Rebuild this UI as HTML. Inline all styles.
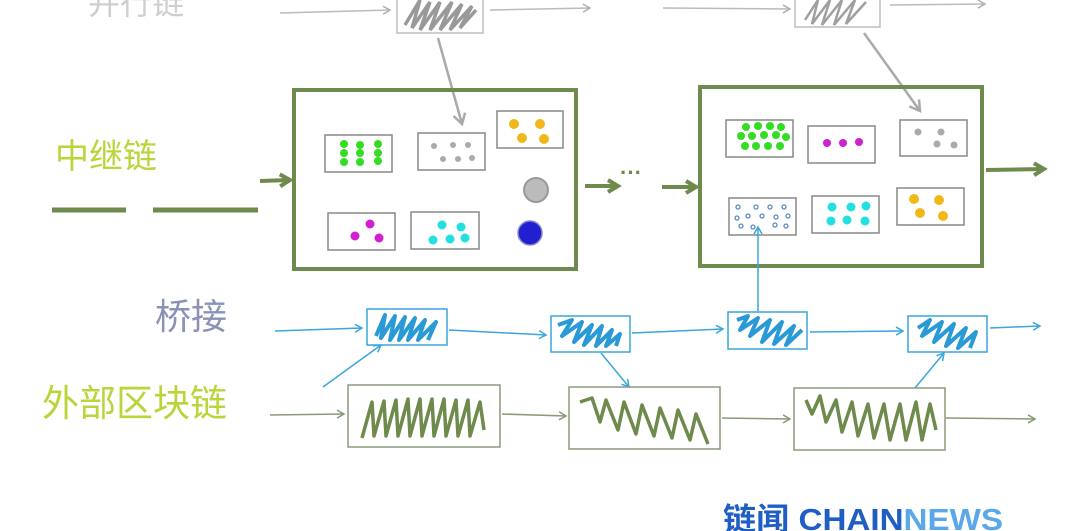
<!DOCTYPE html>
<html><head><meta charset="utf-8"><style>
html,body{margin:0;padding:0;background:#fff;width:1080px;height:531px;overflow:hidden}
svg{display:block}
text{font-family:"Liberation Sans","Noto Sans CJK SC",sans-serif}
</style></head><body>
<svg width="1080" height="531" viewBox="0 0 1080 531" xmlns="http://www.w3.org/2000/svg">
<defs>
<marker id="ag" markerWidth="10" markerHeight="10" refX="8" refY="5" orient="auto" markerUnits="userSpaceOnUse"><path d="M1,1 L8,5 L1,9" fill="none" stroke="#b0b0b0" stroke-width="1.5"/></marker>
<marker id="ag2" markerWidth="14" markerHeight="14" refX="11" refY="7" orient="auto" markerUnits="userSpaceOnUse"><path d="M1,1 L11,7 L1,13" fill="none" stroke="#aaa" stroke-width="2.5"/></marker>
<marker id="agr" markerWidth="16" markerHeight="16" refX="12" refY="8" orient="auto" markerUnits="userSpaceOnUse"><path d="M2,2 L12,8 L2,14" fill="none" stroke="#6e8a4c" stroke-width="4"/></marker>
<marker id="ab" markerWidth="10" markerHeight="10" refX="8" refY="5" orient="auto" markerUnits="userSpaceOnUse"><path d="M1,1 L8,5 L1,9" fill="none" stroke="#3aa6dc" stroke-width="1.5"/></marker>
<marker id="ae" markerWidth="10" markerHeight="10" refX="8" refY="5" orient="auto" markerUnits="userSpaceOnUse"><path d="M1,1 L8,5 L1,9" fill="none" stroke="#8a9a78" stroke-width="1.5"/></marker>
</defs>

<!-- parallel chain -->
<text x="88" y="14" font-size="32" fill="#cfcfcf">并行链</text>
<line x1="280" y1="13" x2="390" y2="10" stroke="#bbb" stroke-width="1.5" marker-end="url(#ag)"/>
<rect x="397" y="-5" width="86" height="38" fill="#fff" stroke="#bdbdbd" stroke-width="1.5"/>
<polyline points="405,25 420,0 412,28 430,2 420,30 440,2 430,30 452,2 440,30 462,4 450,30 472,6 460,28 476,10" fill="none" stroke="#999" stroke-width="3.5"/>
<line x1="490" y1="10" x2="590" y2="8" stroke="#bbb" stroke-width="1.5" marker-end="url(#ag)"/>
<line x1="663" y1="8" x2="790" y2="9" stroke="#bbb" stroke-width="1.5" marker-end="url(#ag)"/>
<rect x="795" y="-5" width="85" height="32" fill="#fff" stroke="#bdbdbd" stroke-width="1.5"/>
<polyline points="805,20 818,0 812,24 830,0 822,25 842,0 834,25 855,0 846,24 866,2" fill="none" stroke="#a0a0a0" stroke-width="2.5"/>
<line x1="890" y1="5" x2="985" y2="4" stroke="#bbb" stroke-width="1.5" marker-end="url(#ag)"/>
<line x1="438" y1="38" x2="462" y2="124" stroke="#aaa" stroke-width="2.5" marker-end="url(#ag2)"/>
<line x1="864" y1="33" x2="920" y2="111" stroke="#aaa" stroke-width="2.5" marker-end="url(#ag2)"/>

<!-- relay chain -->
<text x="55" y="168" font-size="34" fill="#b8d63a">中继链</text>
<line x1="52" y1="210" x2="126" y2="210" stroke="#6e8a4c" stroke-width="5"/>
<line x1="153" y1="210" x2="258" y2="210" stroke="#6e8a4c" stroke-width="5"/>
<line x1="260" y1="181" x2="290" y2="180" stroke="#6e8a4c" stroke-width="4" marker-end="url(#agr)"/>
<rect x="294" y="90" width="282" height="179" fill="none" stroke="#6e8a4c" stroke-width="4"/>
<g fill="none" stroke="#888" stroke-width="1.5">
<rect x="325" y="135" width="67" height="37"/><rect x="418" y="133" width="67" height="37"/>
<rect x="497" y="111" width="66" height="37"/><rect x="328" y="213" width="67" height="37"/>
<rect x="411" y="212" width="68" height="37"/>
<rect x="726" y="120" width="67" height="37"/><rect x="808" y="126" width="67" height="37"/>
<rect x="900" y="120" width="67" height="36"/><rect x="729" y="198" width="67" height="37"/>
<rect x="812" y="196" width="67" height="37"/><rect x="897" y="188" width="67" height="37"/>
</g>
<g fill="#33dd22"><circle cx="344" cy="144" r="4"/><circle cx="360" cy="145" r="4"/><circle cx="378" cy="144" r="4"/><circle cx="344" cy="153" r="4"/><circle cx="360" cy="153" r="4"/><circle cx="378" cy="153" r="4"/><circle cx="344" cy="162" r="4"/><circle cx="360" cy="162" r="4"/><circle cx="378" cy="161" r="4"/></g>
<g fill="#aaa"><circle cx="434" cy="146" r="3"/><circle cx="453" cy="145" r="3"/><circle cx="468" cy="145" r="3"/><circle cx="443" cy="159" r="3"/><circle cx="458" cy="159" r="3"/><circle cx="472" cy="158" r="3"/></g>
<g fill="#f0b81a"><circle cx="514" cy="124" r="5"/><circle cx="540" cy="124" r="5"/><circle cx="522" cy="138" r="5"/><circle cx="544" cy="139" r="5"/></g>
<circle cx="536" cy="190" r="12" fill="#bbb" stroke="#999" stroke-width="2"/>
<circle cx="530" cy="233" r="12" fill="#2020d0" stroke="#8888cc" stroke-width="1.5"/>
<g fill="#d020d0"><circle cx="370" cy="224" r="4.5"/><circle cx="355" cy="236" r="4.5"/><circle cx="379" cy="238" r="4.5"/></g>
<g fill="#22e0e0"><circle cx="442" cy="225" r="4.5"/><circle cx="461" cy="227" r="4.5"/><circle cx="433" cy="240" r="4.5"/><circle cx="450" cy="239" r="4.5"/><circle cx="465" cy="238" r="4.5"/></g>

<line x1="585" y1="186" x2="618" y2="186" stroke="#6e8a4c" stroke-width="4" marker-end="url(#agr)"/>
<text x="620" y="180" font-size="22" fill="#6e8a4c" font-weight="bold">···</text>
<line x1="662" y1="187" x2="696" y2="187" stroke="#6e8a4c" stroke-width="4" marker-end="url(#agr)"/>
<rect x="700" y="87" width="282" height="179" fill="none" stroke="#6e8a4c" stroke-width="4"/>
<line x1="986" y1="170" x2="1044" y2="169" stroke="#6e8a4c" stroke-width="4" marker-end="url(#agr)"/>
<g fill="#33dd22"><circle cx="746" cy="127" r="4"/><circle cx="758" cy="126" r="4"/><circle cx="770" cy="126" r="4"/><circle cx="781" cy="127" r="4"/><circle cx="741" cy="136" r="4"/><circle cx="752" cy="136" r="4"/><circle cx="764" cy="135" r="4"/><circle cx="776" cy="135" r="4"/><circle cx="786" cy="137" r="4"/><circle cx="745" cy="146" r="4"/><circle cx="756" cy="146" r="4"/><circle cx="768" cy="146" r="4"/><circle cx="780" cy="146" r="4"/></g>
<g fill="#d020d0"><circle cx="827" cy="143" r="4"/><circle cx="843" cy="143" r="4"/><circle cx="859" cy="142" r="4"/></g>
<g fill="#aaa"><circle cx="918" cy="132" r="3.5"/><circle cx="941" cy="132" r="3.5"/><circle cx="937" cy="144" r="3.5"/><circle cx="954" cy="145" r="3.5"/></g>
<g fill="none" stroke="#5a8ac0" stroke-width="1.3"><circle cx="738" cy="207" r="2"/><circle cx="756" cy="207" r="2"/><circle cx="770" cy="207" r="2"/><circle cx="784" cy="207" r="2"/><circle cx="737" cy="218" r="2"/><circle cx="748" cy="216" r="2"/><circle cx="762" cy="216" r="2"/><circle cx="776" cy="217" r="2"/><circle cx="788" cy="216" r="2"/><circle cx="741" cy="226" r="2"/><circle cx="753" cy="227" r="2"/><circle cx="775" cy="225" r="2"/><circle cx="786" cy="226" r="2"/></g>
<g fill="#22e0e0"><circle cx="832" cy="207" r="4.5"/><circle cx="851" cy="207" r="4.5"/><circle cx="866" cy="206" r="4.5"/><circle cx="831" cy="221" r="4.5"/><circle cx="847" cy="220" r="4.5"/><circle cx="865" cy="221" r="4.5"/></g>
<g fill="#f0b81a"><circle cx="914" cy="199" r="5"/><circle cx="939" cy="200" r="5"/><circle cx="920" cy="213" r="5"/><circle cx="943" cy="216" r="5"/></g>
<line x1="758" y1="311" x2="758" y2="227" stroke="#3aa6dc" stroke-width="1.5" marker-end="url(#ab)"/>

<!-- bridge -->
<text x="155" y="329" font-size="36" fill="#8a92b6">桥接</text>
<g stroke="#3aa6dc" stroke-width="1.5" fill="none">
<line x1="275" y1="331" x2="362" y2="328" marker-end="url(#ab)"/>
<line x1="449" y1="330" x2="546" y2="335" marker-end="url(#ab)"/>
<line x1="632" y1="333" x2="723" y2="329" marker-end="url(#ab)"/>
<line x1="810" y1="332" x2="903" y2="331" marker-end="url(#ab)"/>
<line x1="990" y1="328" x2="1040" y2="326" marker-end="url(#ab)"/>
<line x1="323" y1="387" x2="381" y2="345" marker-end="url(#ab)"/>
<line x1="601" y1="353" x2="629" y2="387" marker-end="url(#ab)"/>
<line x1="915" y1="388" x2="944" y2="353" marker-end="url(#ab)"/>
<rect x="367" y="309" width="80" height="36"/><rect x="551" y="316" width="79" height="36"/>
<rect x="728" y="312" width="79" height="37"/><rect x="908" y="316" width="79" height="36"/>
</g>
<g stroke="#2a9ad6" stroke-width="4" fill="none" stroke-linejoin="round">
<polyline points="376,336 385,315 381,338 395,316 390,340 405,317 399,340 415,318 408,340 425,320 418,340 436,322 428,340"/>
<polyline points="558,325 572,320 562,336 582,322 574,342 592,325 584,345 602,326 596,346 612,330 606,346 620,334 616,346"/>
<polyline points="737,320 748,316 740,330 758,318 750,336 770,320 762,342 782,322 774,344 794,326 786,345 802,330"/>
<polyline points="918,328 930,320 922,336 942,322 934,342 954,324 946,346 966,328 958,348 976,332 970,348"/>
</g>

<!-- external -->
<text x="42" y="416" font-size="37" fill="#b8d63a">外部区块链</text>
<g stroke="#8a9a78" stroke-width="1.5" fill="none">
<line x1="270" y1="415" x2="344" y2="414" marker-end="url(#ae)"/>
<line x1="502" y1="414" x2="566" y2="416" marker-end="url(#ae)"/>
<line x1="722" y1="418" x2="790" y2="419" marker-end="url(#ae)"/>
<line x1="946" y1="418" x2="1035" y2="419" marker-end="url(#ae)"/>
<rect x="348" y="385" width="152" height="62"/><rect x="569" y="387" width="151" height="62"/>
<rect x="794" y="388" width="151" height="62"/>
</g>
<g stroke="#6e8a4c" stroke-width="3.5" fill="none" stroke-linejoin="round">
<polyline points="362,438 372,402 374,436 384,401 386,436 396,400 398,436 408,399 410,436 420,399 422,436 432,399 434,436 444,399 446,436 456,400 458,436 468,400 470,436 480,402 484,430"/>
<polyline points="580,402 592,398 600,422 606,400 618,430 624,402 636,434 642,405 654,436 660,408 672,438 678,410 690,440 696,414 708,444"/>
<polyline points="806,400 812,414 820,396 826,422 836,400 842,432 852,402 858,436 868,404 874,438 884,404 890,440 900,404 906,440 916,402 922,440 930,404 936,430"/>
</g>

<!-- logo -->
<text x="723" y="530" font-size="31" font-weight="bold" fill="#1f5fc4" textLength="280" lengthAdjust="spacingAndGlyphs">链闻 CHAIN<tspan fill="#5aa8ea">NEWS</tspan></text>
</svg>
</body></html>
